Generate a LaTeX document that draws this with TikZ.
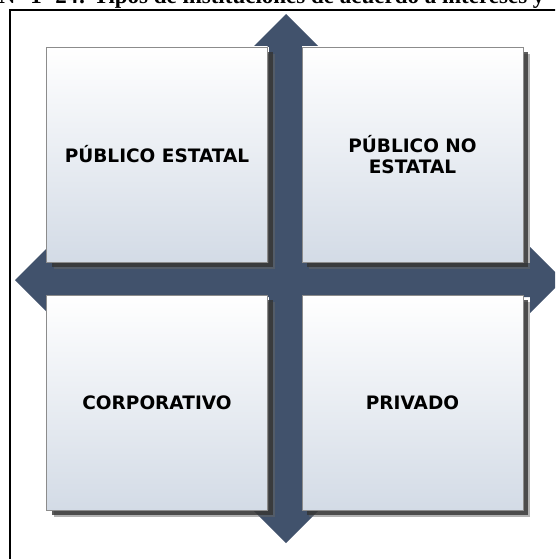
\documentclass[tikz,border=0pt]{standalone}
\usepackage{fontspec}
\setsansfont{DejaVu Sans}
\newfontfamily\captionfont{Liberation Serif}
\usetikzlibrary{shadows}
\definecolor{crossblue}{RGB}{65,82,108}
\definecolor{quadblue}{RGB}{211,219,230}
\tikzset{
  quad/.style={draw=black!45, top color=white, bottom color=quadblue,
    minimum width=221pt, minimum height=215pt, inner sep=0pt, align=center,
    font=\sffamily\bfseries\fontsize{18.5}{21}\selectfont,
    drop shadow={shadow xshift=7pt, shadow yshift=-7pt, fill=black!60, opacity=.5},
    drop shadow={shadow xshift=5pt, shadow yshift=-5pt, fill=black!80, opacity=.8}},
  frame/.style={line width=2pt, black}
}
\begin{document}
\begin{tikzpicture}[x=1pt, y=-1pt] % coordinates in pixels, y down
\def\cross{(269,47) -- (253,47) -- (286,14) -- (319,47) -- (303,47) -- (303,263)
  -- (530,263) -- (530,247) -- (563,280) -- (530,313) -- (530,297) -- (303,297)
  -- (303,510) -- (319,510) -- (286,543) -- (253,510) -- (269,510) -- (269,297)
  -- (48,297) -- (48,313) -- (15,280) -- (48,247) -- (48,263) -- (269,263) -- cycle}
    \path[use as bounding box, clip] (0,0) rectangle (555,559);
    \node[anchor=base east, font=\captionfont\bfseries\fontsize{23}{23}\selectfont] (caption) at (548,4)
        {Figura N° 1- 24: Tipos de instituciones de acuerdo a intereses y};
    \draw[frame] (10,570) -- (10,10) -- (570,10);
    \fill[crossblue] \cross;
    \node[quad] (pubest)   at (157,154.5) {PÚBLICO ESTATAL};
    \node[quad] (pubnoest) at (412.5,154.5) {PÚBLICO NO\\ESTATAL};
    \node[quad] (corp)     at (157,402.5) {CORPORATIVO};
    \node[quad] (priv)     at (412.5,402.5) {PRIVADO};
\end{tikzpicture}
\end{document}
